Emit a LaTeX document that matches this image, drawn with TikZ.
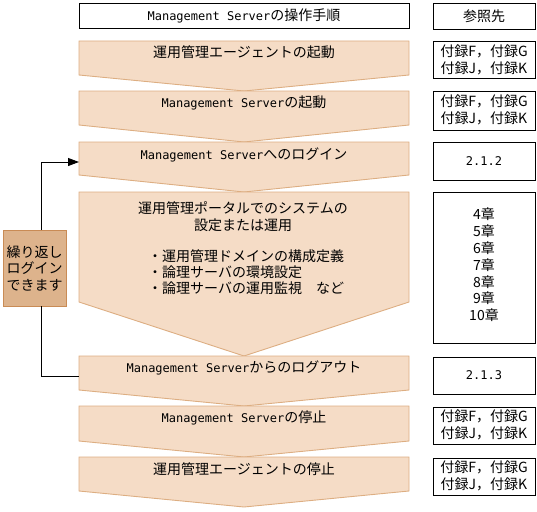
\documentclass[tikz,border=0pt]{standalone}
\usepackage{fontspec}
\setmainfont{Noto Sans CJK JP}
\newfontfamily\mono{DejaVu Sans Mono}
\usetikzlibrary{arrows.meta}
\definecolor{stepfill}{HTML}{F5DCC6}
\definecolor{stepline}{HTML}{DDAE82}
\definecolor{repfill}{HTML}{DDB38C}
\definecolor{repline}{HTML}{C98B55}
\tikzset{
  stepshape/.style={fill=stepfill,draw=stepline,line width=0.9pt},
  reftxt/.style={font=\fontsize{14}{16.8}\selectfont,align=center,inner sep=0pt},
  refbox/.style={draw=black,line width=0.9pt,fill=white},
  txt/.style={font=\fontsize{14}{17}\selectfont,inner sep=0pt},
  loopline/.style={draw=black,line width=0.9pt},
}
\newcommand\pent[3]{\path[stepshape] (79,#1) -- (409,#1) -- (409,#2) -- (244,#3) -- (79,#2) -- cycle;}
\newcommand\ms{{\mono\fontsize{12}{14}\selectfont Management Server}}
\begin{document}
\begin{tikzpicture}[x=1pt,y=-1pt]
\useasboundingbox (0,0) rectangle (537,511);
% header
\draw[refbox] (79,3) rectangle (409,28);
\node[txt] (h1) at (244,16) {\ms の操作手順};
\draw[refbox] (433,3) rectangle (535,29);
\node[txt] (h2) at (484,16) {参照先};
% steps
\pent{41}{75}{91}
\node[txt] (s1) at (244,52) {運用管理エージェントの起動};
\pent{91}{125}{142}
\node[txt] (s2) at (244,103) {\ms の起動};
\pent{142}{175}{192}
\node[txt] (s3) at (244,155) {\ms へのログイン};
\pent{192}{302}{356}
\node[txt,align=center] (s4) at (243,217) {運用管理ポータルでのシステムの\\設定または運用};
\node[txt,anchor=west] (b1) at (148,256) {・運用管理ドメインの構成定義};
\node[txt,anchor=west] (b2) at (148,272) {・論理サーバの環境設定};
\node[txt,anchor=west] (b3) at (148,288) {・論理サーバの運用監視　など};
\pent{356}{390}{406}
\node[txt] (s5) at (244,368) {\ms からのログアウト};
\pent{406}{441}{457}
\node[txt] (s6) at (244,418) {\ms の停止};
\pent{457}{491}{507}
\node[txt] (s7) at (244,469) {運用管理エージェントの停止};
% reference boxes
\draw[refbox] (433,41) rectangle (535,78);
\node[reftxt] (r1) at (484,60) {付録F，付録G\\付録J，付録K};
\draw[refbox] (433,91) rectangle (535,130);
\node[reftxt] (r2) at (484,110) {付録F，付録G\\付録J，付録K};
\draw[refbox] (433,142) rectangle (535,180);
\node[txt] (r3) at (484,161) {\mono\fontsize{12}{14}\selectfont 2.1.2};
\draw[refbox] (433,192) rectangle (535,343);
\node[reftxt] (r4) at (484,265) {4章\\5章\\6章\\7章\\8章\\9章\\10章};
\draw[refbox] (433,357) rectangle (535,394);
\node[txt] (r5) at (484,375) {\mono\fontsize{12}{14}\selectfont 2.1.3};
\draw[refbox] (433,407) rectangle (535,444);
\node[reftxt] (r6) at (484,425) {付録F，付録G\\付録J，付録K};
\draw[refbox] (433,458) rectangle (535,495);
\node[reftxt] (r7) at (484,476) {付録F，付録G\\付録J，付録K};
% repeat box
\node[draw=repline,fill=repfill,line width=0.9pt,minimum width=63pt,minimum height=76pt,inner sep=0pt,align=center,font=\fontsize{14}{16.5}\selectfont] (rep) at (34.5,268) {繰り返し\\ログイン\\できます};
\coordinate (in3) at (79,162);
\coordinate (out5) at (79,376);
\draw[loopline,-{Triangle[length=11pt,width=8pt]}] ([xshift=6.5pt]rep.north) |- (in3);
\draw[loopline] ([xshift=6.5pt]rep.south) |- (out5);
\end{tikzpicture}
\end{document}
